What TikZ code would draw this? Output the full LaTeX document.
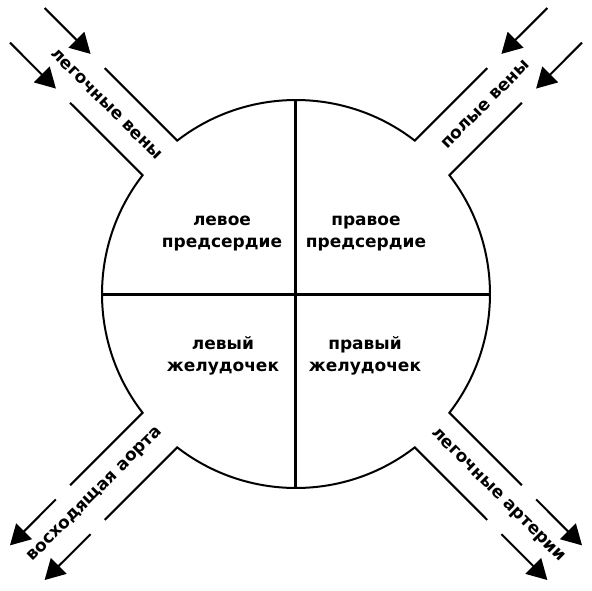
\documentclass[tikz,border=0pt]{standalone}
\usepackage{fontspec}
\setmainfont{DejaVu Sans}
\usetikzlibrary{arrows.meta}

\begin{document}
\begin{tikzpicture}[
  x=1pt,y=1pt,
  wall/.style={line width=2pt},
  divider/.style={line width=3pt},
  flow/.style={line width=2pt,-{Triangle[length=20pt,width=22pt]}},
  part/.style={align=center,font=\fontsize{17}{22}\selectfont\bfseries},
  vessel/.style={font=\fontsize{17}{22}\selectfont\bfseries}
]
  \useasboundingbox (-296,-296) rectangle (296,294);

  % heart outline with the four vessel openings
  \foreach \a in {45,135,225,315}
    \draw[wall] (\a+4.75:296) -- (\a+7.25:194)
      arc[start angle=\a+7.25,end angle=\a+82.75,radius=194] -- (\a+85.25:296);

  \coordinate (top) at (90:194);
  \coordinate (bottom) at (270:194);
  \coordinate (left) at (180:194);
  \coordinate (right) at (0:194);
  \draw[divider] (top) -- (bottom);
  \draw[divider] (left) -- (right);

  \node[part] (la) at (-74,60) {левое\\предсердие};
  \node[part] (ra) at (70,60) {правое\\предсердие};
  \node[part] (lv) at (-73,-62) {левый\\желудочек};
  \node[part] (rv) at (69,-62) {правый\\желудочек};

  \node[vessel,rotate=-45] (pv) at (135:268) {легочные вены};
  \node[vessel,rotate=45] (vc) at (45:268) {полые вены};
  \node[vessel,rotate=45] (ao) at (225:284) {восходящая аорта};
  \node[vessel,rotate=-45] (pa) at (315:285) {легочные артерии};

  % blood flow: in at the top, out at the bottom
  \foreach \a in {45,135,225,315}
    \foreach \s/\k in {1/a,-1/b} {
      \coordinate (near-\a\k) at (\a+\s*4.45:316);
      \coordinate (far-\a\k) at (\a+\s*3.69:380.8);
    }
  \foreach \a in {45,135}
    \foreach \k in {a,b}
      \draw[flow] (far-\a\k) -- (near-\a\k);
  \foreach \a in {225,315}
    \foreach \k in {a,b}
      \draw[flow] (near-\a\k) -- (far-\a\k);
\end{tikzpicture}
\end{document}
